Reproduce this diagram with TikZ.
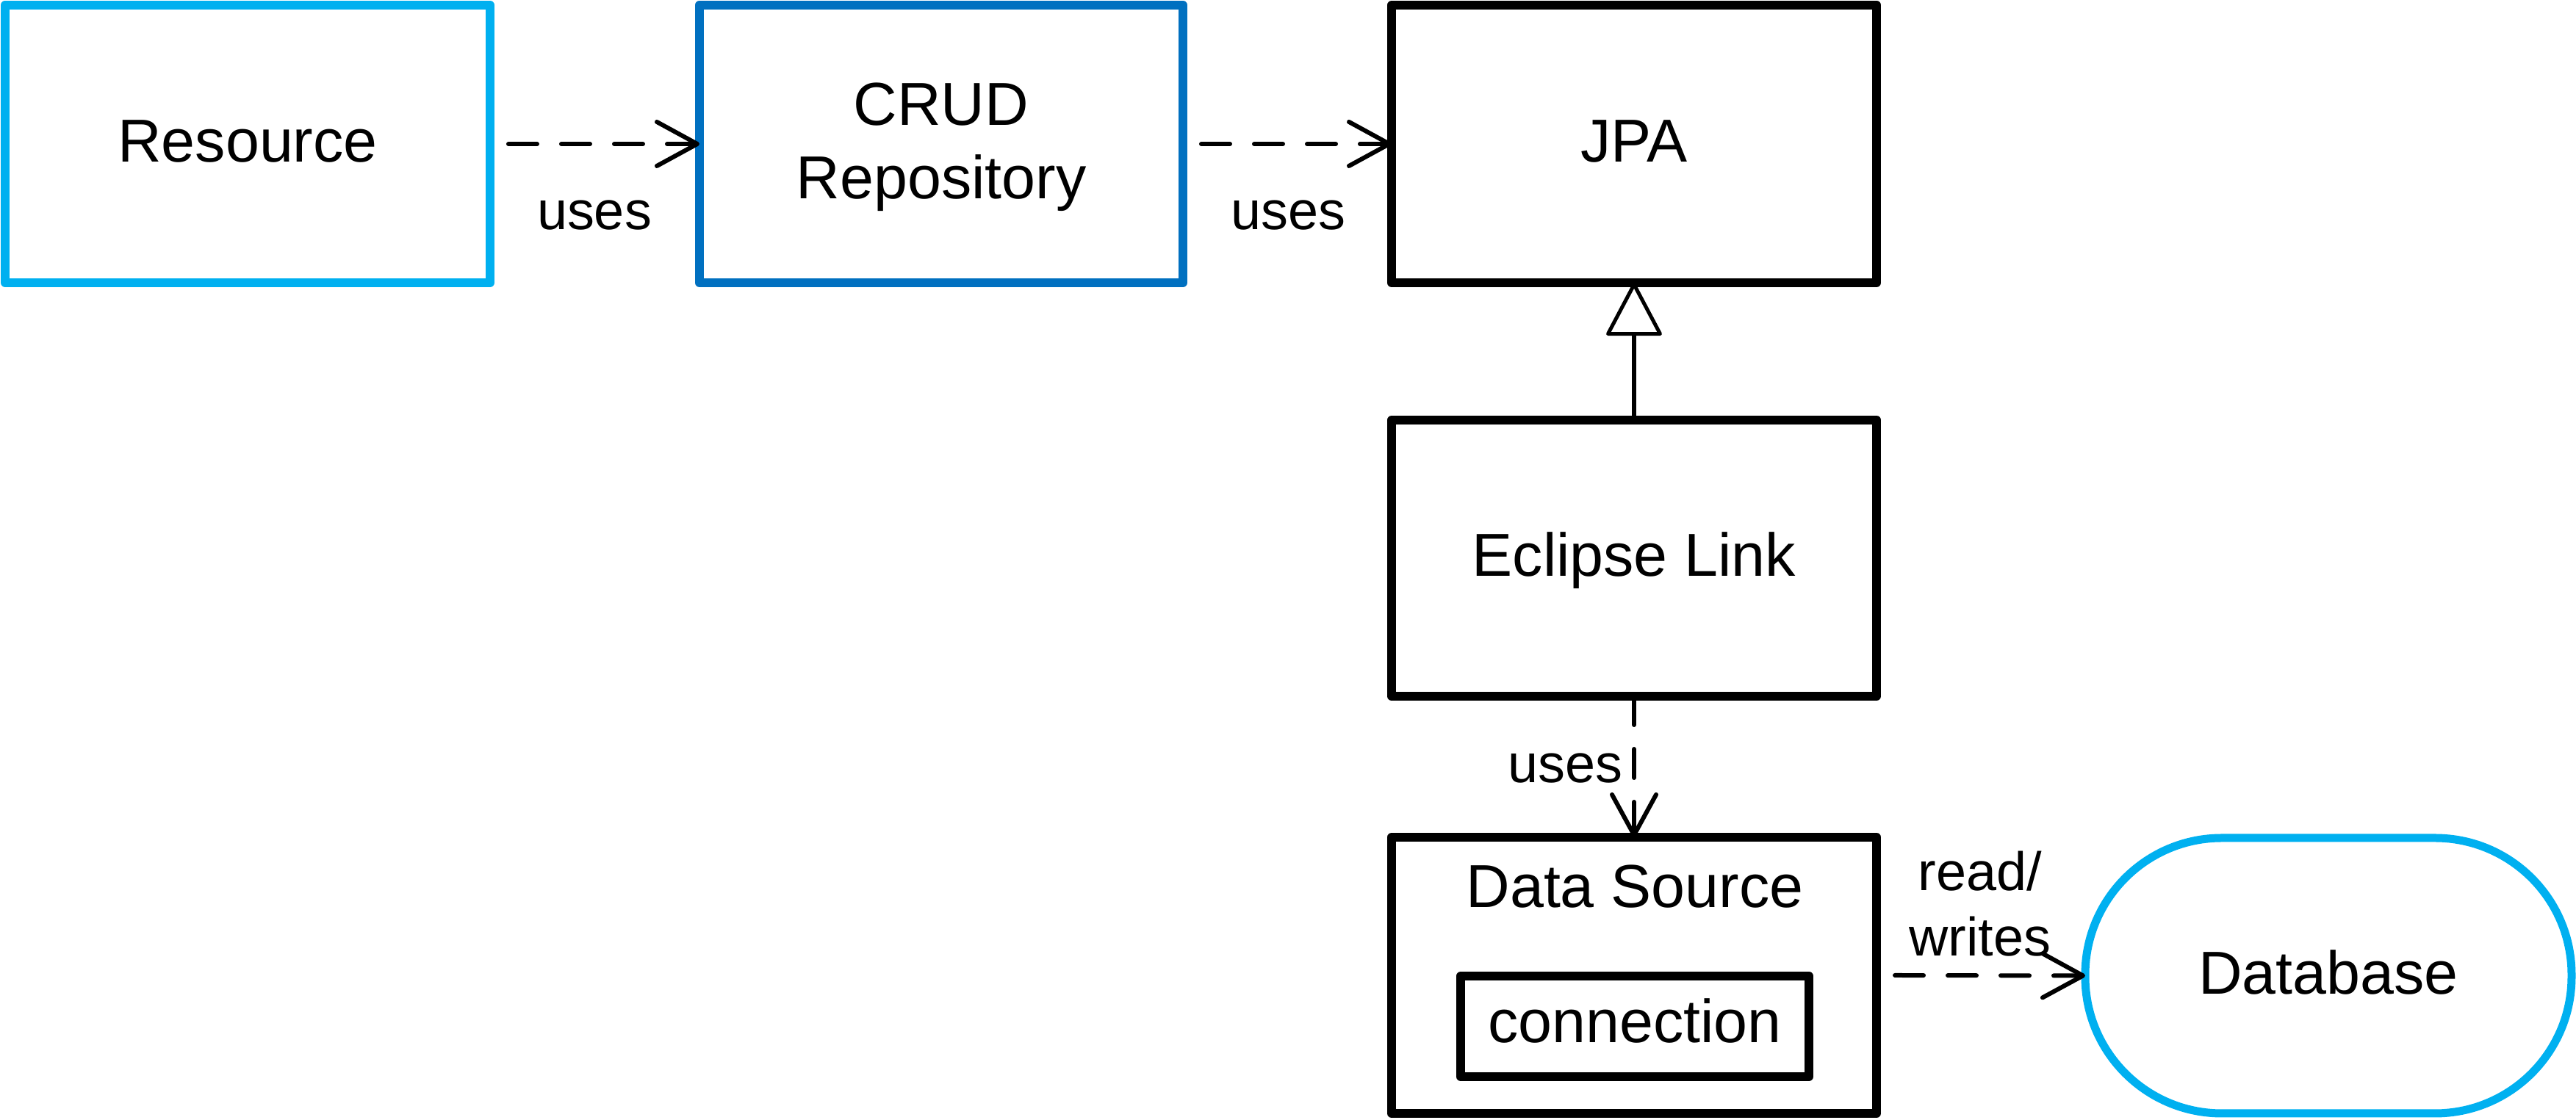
\documentclass[tikz,border=0pt]{standalone}
\usepackage{fontspec}
\setmainfont{Liberation Sans}
\usetikzlibrary{arrows.meta}
\definecolor{lightblue}{HTML}{00B0F0}
\definecolor{darkblue}{HTML}{0070C0}
\tikzset{
  box/.style={draw=black, line width=0.12cm, rectangle, inner sep=0pt, outer sep=0pt,
    line join=round, align=center, text depth=0pt,
    font=\fontsize{23.5pt}{28.45pt}\selectfont},
  onel/.style={text height=0.5cm},
  lbl/.style={inner sep=0pt, outer sep=0pt, align=center, text depth=0pt,
    font=\fontsize{21pt}{25.6pt}\selectfont},
  dep/.style={line width=0.06cm, dash pattern=on 0.39cm off 0.33cm, line cap=round,
    -{Straight Barb[length=0.55cm, width=0.6cm, line cap=round, line join=round]}},
  gen/.style={line width=0.06cm,
    -{Triangle[open, length=0.75cm, width=0.78cm, line width=0.05cm, line join=round]}},
}
\begin{document}
\begin{tikzpicture}
\useasboundingbox (0,0) rectangle (35.06,15.25);
% boxes
\node[box, onel, draw=lightblue, minimum width=6.60cm, minimum height=3.78cm] (res) at (3.37,13.29) {Resource};
\node[box, draw=darkblue, text height=1.5cm, minimum width=6.58cm, minimum height=3.78cm] (crud) at (12.81,13.29) {CRUD\\Repository};
\node[box, onel, minimum width=6.60cm, minimum height=3.78cm] (jpa) at (22.24,13.29) {JPA};
\node[box, onel, minimum width=6.60cm, minimum height=3.76cm] (ecl) at (22.24,7.65) {Eclipse Link};
\node[box, minimum width=6.60cm, minimum height=3.76cm] (ds) at (22.24,1.97) {};
\node[box, draw=none, anchor=base] (dslbl) at (22.25,2.89) {Data Source};
\node[box, text height=0.45cm, minimum width=4.74cm, minimum height=1.37cm] (conn) at (22.25,1.275) {connection};
\node[box, onel, draw=lightblue, line width=0.11cm, rounded corners=1.86cm,
      minimum width=6.62cm, minimum height=3.75cm] (db) at (31.69,1.965) {Database};
% labels
\node[lbl, anchor=base] (u1) at (8.09,12.12) {uses};
\node[lbl, anchor=base] (u2) at (17.53,12.12) {uses};
\node[lbl, anchor=base] (u3) at (21.30,4.59) {uses};
\node[lbl, anchor=south] (rw) at (26.95,2.23) {read/\\writes};
% connectors
\draw[dep] ([xshift=0.25cm]res.east) -- (crud.west);
\draw[dep] ([xshift=0.25cm]crud.east) -- (jpa.west);
\draw[gen] (ecl.north) -- (jpa.south);
\draw[dep] (ecl.south) -- (ds.north);
\draw[dep] ([xshift=0.25cm]ds.east) -- (db.west);
\end{tikzpicture}
\end{document}
